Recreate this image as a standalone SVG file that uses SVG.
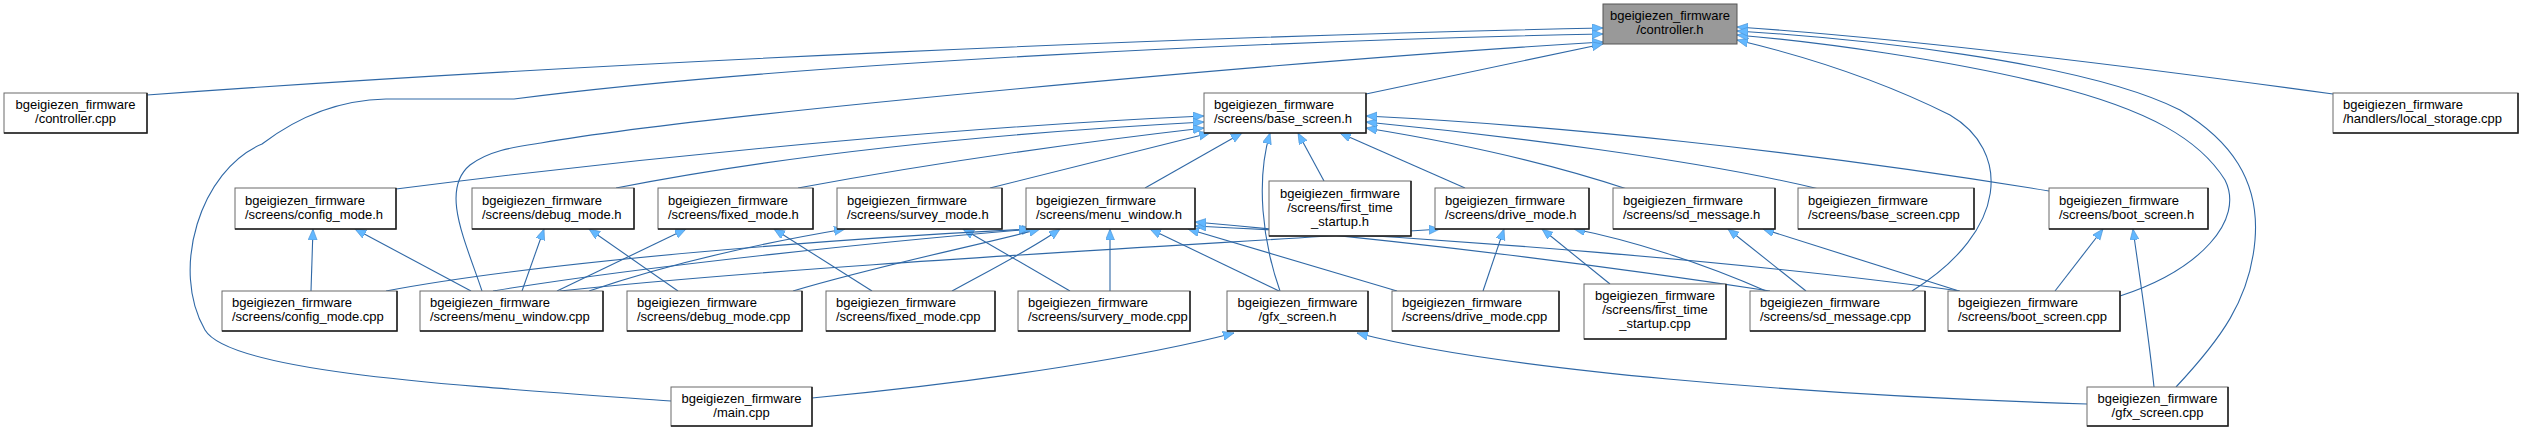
<svg xmlns="http://www.w3.org/2000/svg" width="2521" height="432" viewBox="0 0 2521 432">
<style>
.bg{fill:#ffffff}
.box{fill:#ffffff;stroke:#6a6a6a;stroke-width:1}
.root{fill:#999999;stroke:#555555;stroke-width:1}
.sh{fill:none;stroke:#1e1e1e;stroke-width:1.5}
text{font-family:"Liberation Sans",Arial,sans-serif;font-size:13px;fill:#000000}
.c{text-anchor:middle}
.e{fill:none;stroke:#2f68a6;stroke-width:1.1;marker-end:url(#ah)}
</style>
<defs>
<marker id="ah" markerUnits="userSpaceOnUse" markerWidth="13" markerHeight="10" refX="11" refY="4.5" orient="auto">
<path d="M0,0 L11,4.5 L0,9 z" fill="#63b8ff" stroke="#4a90d0" stroke-width="0.6"/>
</marker>
</defs>
<rect class="bg" x="0" y="0" width="2521" height="432"/>
<g id="edges">
<path class="e" d="M147,95 C600,62 1200,36 1603,28"/>
<path class="e" d="M671,401 C450,385 230,372 205,330 C170,270 200,170 262,144 C300,115 340,100 386,99 L514,99 C800,62 1300,40 1603,34"/>
<path class="e" d="M482,291 C465,240 440,190 470,165 C490,150 515,147 541,143 C700,115 1300,60 1603,42"/>
<path class="e" d="M1366,94 L1603,44"/>
<path class="e" d="M2333,94 C2100,62 1900,38 1737,27"/>
<path class="e" d="M1912,291 C2010,230 2010,150 1950,115 C1880,80 1800,55 1737,40"/>
<path class="e" d="M2120,296 C2200,270 2245,220 2225,180 C2200,140 2150,110 2050,85 C1950,60 1820,42 1737,35"/>
<path class="e" d="M2176,387 C2220,340 2250,300 2255,240 C2260,180 2230,140 2180,110 C2080,60 1850,38 1737,31"/>
<path class="e" d="M396,189 C700,150 1000,125 1204,116"/>
<path class="e" d="M616,188 C800,152 1000,133 1204,122"/>
<path class="e" d="M798,188 C950,160 1100,140 1204,128"/>
<path class="e" d="M990,188 C1080,165 1160,145 1210,133"/>
<path class="e" d="M1145,188 L1242,133"/>
<path class="e" d="M1280,291 C1262,240 1256,180 1270,133"/>
<path class="e" d="M1324,181 L1298,133"/>
<path class="e" d="M1465,188 L1340,133"/>
<path class="e" d="M1627,189 C1540,160 1440,140 1366,128"/>
<path class="e" d="M1819,189 C1700,160 1500,135 1366,122"/>
<path class="e" d="M2049,191 C1800,150 1550,125 1366,116"/>
<path class="e" d="M311,291 L313,229"/>
<path class="e" d="M471,291 L355,229"/>
<path class="e" d="M522,291 L544,229"/>
<path class="e" d="M678,291 L589,229"/>
<path class="e" d="M557,291 L686,229"/>
<path class="e" d="M872,291 L774,229"/>
<path class="e" d="M589,291 C680,260 780,240 845,229"/>
<path class="e" d="M1070,291 L963,229"/>
<path class="e" d="M493,291 C650,265 900,240 1033,229"/>
<path class="e" d="M386,291 C550,260 850,238 1030,229"/>
<path class="e" d="M793,291 C880,265 980,245 1040,229"/>
<path class="e" d="M952,291 C990,270 1030,250 1060,229"/>
<path class="e" d="M1110,291 L1110,229"/>
<path class="e" d="M1279,291 L1150,229"/>
<path class="e" d="M1397,291 L1188,229"/>
<path class="e" d="M1960,291 C1750,262 1450,238 1195,226"/>
<path class="e" d="M1770,291 C1600,265 1400,240 1195,222"/>
<path class="e" d="M1483,291 L1504,229"/>
<path class="e" d="M1610,284 L1542,229"/>
<path class="e" d="M1766,291 C1700,262 1630,240 1574,229"/>
<path class="e" d="M560,291 C800,265 1200,245 1440,229"/>
<path class="e" d="M1806,291 L1728,229"/>
<path class="e" d="M1959,291 L1763,229"/>
<path class="e" d="M2055,291 L2103,229"/>
<path class="e" d="M2154,387 C2148,330 2140,280 2133,229"/>
<path class="e" d="M812,398 C1000,380 1150,355 1234,333"/>
<path class="e" d="M2087,404 C1800,395 1500,370 1357,333"/>
</g>
<g id="n_controller_h"><rect class="root" x="1603" y="4" width="134" height="40"/><text class="c" x="1670" y="20">bgeigiezen_firmware</text><text class="c" x="1670" y="34">/controller.h</text></g>
<g id="n_controller_cpp"><rect class="box" x="4" y="93" width="143" height="40"/><path class="sh" d="M4,133 H147 V93"/><text class="c" x="75.5" y="109">bgeigiezen_firmware</text><text class="c" x="75.5" y="123">/controller.cpp</text></g>
<g id="n_base_screen_h"><rect class="box" x="1204" y="93" width="162" height="40"/><path class="sh" d="M1204,133 H1366 V93"/><text x="1214" y="109">bgeigiezen_firmware</text><text x="1214" y="123">/screens/base_screen.h</text></g>
<g id="n_local_storage_cpp"><rect class="box" x="2333" y="93" width="185" height="40"/><path class="sh" d="M2333,133 H2518 V93"/><text x="2343" y="109">bgeigiezen_firmware</text><text x="2343" y="123">/handlers/local_storage.cpp</text></g>
<g id="n_config_mode_h"><rect class="box" x="235" y="188" width="161" height="41"/><path class="sh" d="M235,229 H396 V188"/><text x="245" y="204.5">bgeigiezen_firmware</text><text x="245" y="218.5">/screens/config_mode.h</text></g>
<g id="n_debug_mode_h"><rect class="box" x="472" y="188" width="162" height="41"/><path class="sh" d="M472,229 H634 V188"/><text x="482" y="204.5">bgeigiezen_firmware</text><text x="482" y="218.5">/screens/debug_mode.h</text></g>
<g id="n_fixed_mode_h"><rect class="box" x="658" y="188" width="155" height="41"/><path class="sh" d="M658,229 H813 V188"/><text x="668" y="204.5">bgeigiezen_firmware</text><text x="668" y="218.5">/screens/fixed_mode.h</text></g>
<g id="n_survey_mode_h"><rect class="box" x="837" y="188" width="165" height="41"/><path class="sh" d="M837,229 H1002 V188"/><text x="847" y="204.5">bgeigiezen_firmware</text><text x="847" y="218.5">/screens/survey_mode.h</text></g>
<g id="n_menu_window_h"><rect class="box" x="1026" y="188" width="169" height="41"/><path class="sh" d="M1026,229 H1195 V188"/><text x="1036" y="204.5">bgeigiezen_firmware</text><text x="1036" y="218.5">/screens/menu_window.h</text></g>
<g id="n_first_time_startup_h"><rect class="box" x="1269" y="181" width="142" height="55"/><path class="sh" d="M1269,236 H1411 V181"/><text class="c" x="1340" y="197.5">bgeigiezen_firmware</text><text class="c" x="1340" y="211.5">/screens/first_time</text><text class="c" x="1340" y="225.5">_startup.h</text></g>
<g id="n_drive_mode_h"><rect class="box" x="1435" y="188" width="154" height="41"/><path class="sh" d="M1435,229 H1589 V188"/><text x="1445" y="204.5">bgeigiezen_firmware</text><text x="1445" y="218.5">/screens/drive_mode.h</text></g>
<g id="n_sd_message_h"><rect class="box" x="1613" y="188" width="162" height="41"/><path class="sh" d="M1613,229 H1775 V188"/><text x="1623" y="204.5">bgeigiezen_firmware</text><text x="1623" y="218.5">/screens/sd_message.h</text></g>
<g id="n_base_screen_cpp"><rect class="box" x="1798" y="188" width="176" height="41"/><path class="sh" d="M1798,229 H1974 V188"/><text x="1808" y="204.5">bgeigiezen_firmware</text><text x="1808" y="218.5">/screens/base_screen.cpp</text></g>
<g id="n_boot_screen_h"><rect class="box" x="2049" y="188" width="159" height="41"/><path class="sh" d="M2049,229 H2208 V188"/><text x="2059" y="204.5">bgeigiezen_firmware</text><text x="2059" y="218.5">/screens/boot_screen.h</text></g>
<g id="n_config_mode_cpp"><rect class="box" x="222" y="291" width="175" height="40"/><path class="sh" d="M222,331 H397 V291"/><text x="232" y="307">bgeigiezen_firmware</text><text x="232" y="321">/screens/config_mode.cpp</text></g>
<g id="n_menu_window_cpp"><rect class="box" x="420" y="291" width="183" height="40"/><path class="sh" d="M420,331 H603 V291"/><text x="430" y="307">bgeigiezen_firmware</text><text x="430" y="321">/screens/menu_window.cpp</text></g>
<g id="n_debug_mode_cpp"><rect class="box" x="627" y="291" width="175" height="40"/><path class="sh" d="M627,331 H802 V291"/><text x="637" y="307">bgeigiezen_firmware</text><text x="637" y="321">/screens/debug_mode.cpp</text></g>
<g id="n_fixed_mode_cpp"><rect class="box" x="826" y="291" width="169" height="40"/><path class="sh" d="M826,331 H995 V291"/><text x="836" y="307">bgeigiezen_firmware</text><text x="836" y="321">/screens/fixed_mode.cpp</text></g>
<g id="n_survery_mode_cpp"><rect class="box" x="1018" y="291" width="172" height="40"/><path class="sh" d="M1018,331 H1190 V291"/><text x="1028" y="307">bgeigiezen_firmware</text><text x="1028" y="321">/screens/survery_mode.cpp</text></g>
<g id="n_gfx_screen_h"><rect class="box" x="1227" y="291" width="141" height="40"/><path class="sh" d="M1227,331 H1368 V291"/><text class="c" x="1297.5" y="307">bgeigiezen_firmware</text><text class="c" x="1297.5" y="321">/gfx_screen.h</text></g>
<g id="n_drive_mode_cpp"><rect class="box" x="1392" y="291" width="167" height="40"/><path class="sh" d="M1392,331 H1559 V291"/><text x="1402" y="307">bgeigiezen_firmware</text><text x="1402" y="321">/screens/drive_mode.cpp</text></g>
<g id="n_first_time_startup_cpp"><rect class="box" x="1584" y="284" width="142" height="55"/><path class="sh" d="M1584,339 H1726 V284"/><text class="c" x="1655" y="300">bgeigiezen_firmware</text><text class="c" x="1655" y="314">/screens/first_time</text><text class="c" x="1655" y="328">_startup.cpp</text></g>
<g id="n_sd_message_cpp"><rect class="box" x="1750" y="291" width="175" height="40"/><path class="sh" d="M1750,331 H1925 V291"/><text x="1760" y="307">bgeigiezen_firmware</text><text x="1760" y="321">/screens/sd_message.cpp</text></g>
<g id="n_boot_screen_cpp"><rect class="box" x="1948" y="291" width="172" height="40"/><path class="sh" d="M1948,331 H2120 V291"/><text x="1958" y="307">bgeigiezen_firmware</text><text x="1958" y="321">/screens/boot_screen.cpp</text></g>
<g id="n_main_cpp"><rect class="box" x="671" y="387" width="141" height="39"/><path class="sh" d="M671,426 H812 V387"/><text class="c" x="741.5" y="402.5">bgeigiezen_firmware</text><text class="c" x="741.5" y="416.5">/main.cpp</text></g>
<g id="n_gfx_screen_cpp"><rect class="box" x="2087" y="387" width="141" height="39"/><path class="sh" d="M2087,426 H2228 V387"/><text class="c" x="2157.5" y="402.5">bgeigiezen_firmware</text><text class="c" x="2157.5" y="416.5">/gfx_screen.cpp</text></g>
</svg>
